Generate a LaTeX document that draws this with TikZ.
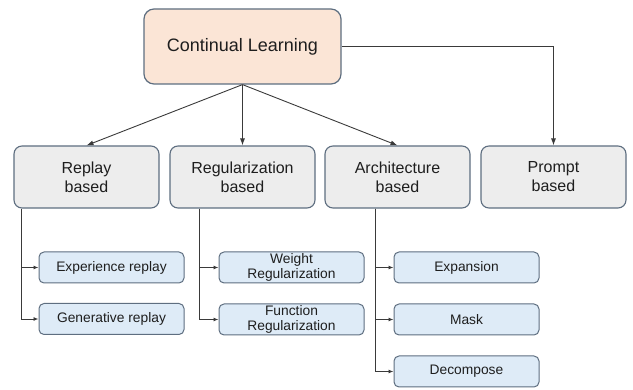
\documentclass[tikz,border=0pt]{standalone}
\usepackage{fontspec}
\setmainfont{Liberation Sans}
\usetikzlibrary{arrows.meta,calc}
\definecolor{topfill}{HTML}{FBE5D6}
\definecolor{midfill}{HTML}{EDEDED}
\definecolor{subfill}{HTML}{DEEBF7}
\definecolor{bord}{HTML}{5E6E80}
\definecolor{txt}{HTML}{1E1E1E}
\definecolor{ln}{HTML}{3A3A3A}
\begin{document}
\begin{tikzpicture}[x=1pt,y=-1pt,
  topbox/.style={draw=bord,line width=1.2pt,fill=topfill,rounded corners=10pt,minimum width=197pt,minimum height=75pt,inner sep=0pt,font=\fontsize{18}{21}\selectfont,text=txt},
  midbox/.style={draw=bord,line width=1.1pt,fill=midfill,rounded corners=8pt,minimum width=145pt,minimum height=62pt,inner sep=0pt,align=center,font=\fontsize{16}{19}\selectfont,text=txt},
  subbox/.style={draw=bord,line width=1pt,fill=subfill,rounded corners=5pt,minimum width=145pt,minimum height=31pt,inner sep=0pt,align=center,font=\fontsize{13.8}{15}\selectfont,text=txt},
  arr/.style={draw=ln,line width=0.9pt,-{Latex[length=7pt,width=5pt]}},
  sarr/.style={draw=ln,line width=0.9pt,-{Latex[length=5pt,width=4pt]}}]
\useasboundingbox (0,0) rectangle (633,390);
\node[topbox] (top) at (242.5,46.5) {\raisebox{-1pt}{Continual Learning}};
\node[midbox] (rep) at (86.5,177) {Replay\\based};
\node[midbox] (reg) at (242.5,177) {Regularization\\based};
\node[midbox] (arc) at (397.5,177) {Architecture\\based};
\node[midbox] (prm) at (553.5,177) {Prompt\\based};
\node[subbox] (exp) at (111.5,267.5) {Experience replay};
\node[subbox] (gen) at (111.5,319) {Generative replay};
\node[subbox] (wr) at (291.5,267.5) {Weight\\Regularization};
\node[subbox] (fr) at (291.5,319.5) {Function\\Regularization};
\node[subbox] (ex) at (466.5,267.5) {Expansion};
\node[subbox] (ma) at (466.5,319.5) {Mask};
\node[subbox] (de) at (466.5,371.5) {Decompose};
\draw[arr] (top.south) -- (rep.north);
\draw[arr] (top.south) -- (reg.north);
\draw[arr] (top.south) -- (arc.north);
\draw[arr] (top.east) -| (prm.north);
\draw[sarr] ([xshift=8pt]rep.south west) |- (exp.west);
\draw[sarr] ([xshift=8pt]rep.south west) |- (gen.west);
\draw[sarr] ([xshift=30pt]reg.south west) |- (wr.west);
\draw[sarr] ([xshift=30pt]reg.south west) |- (fr.west);
\draw[sarr] ([xshift=51pt]arc.south west) |- (ex.west);
\draw[sarr] ([xshift=51pt]arc.south west) |- (ma.west);
\draw[sarr] ([xshift=51pt]arc.south west) |- (de.west);
\end{tikzpicture}
\end{document}
